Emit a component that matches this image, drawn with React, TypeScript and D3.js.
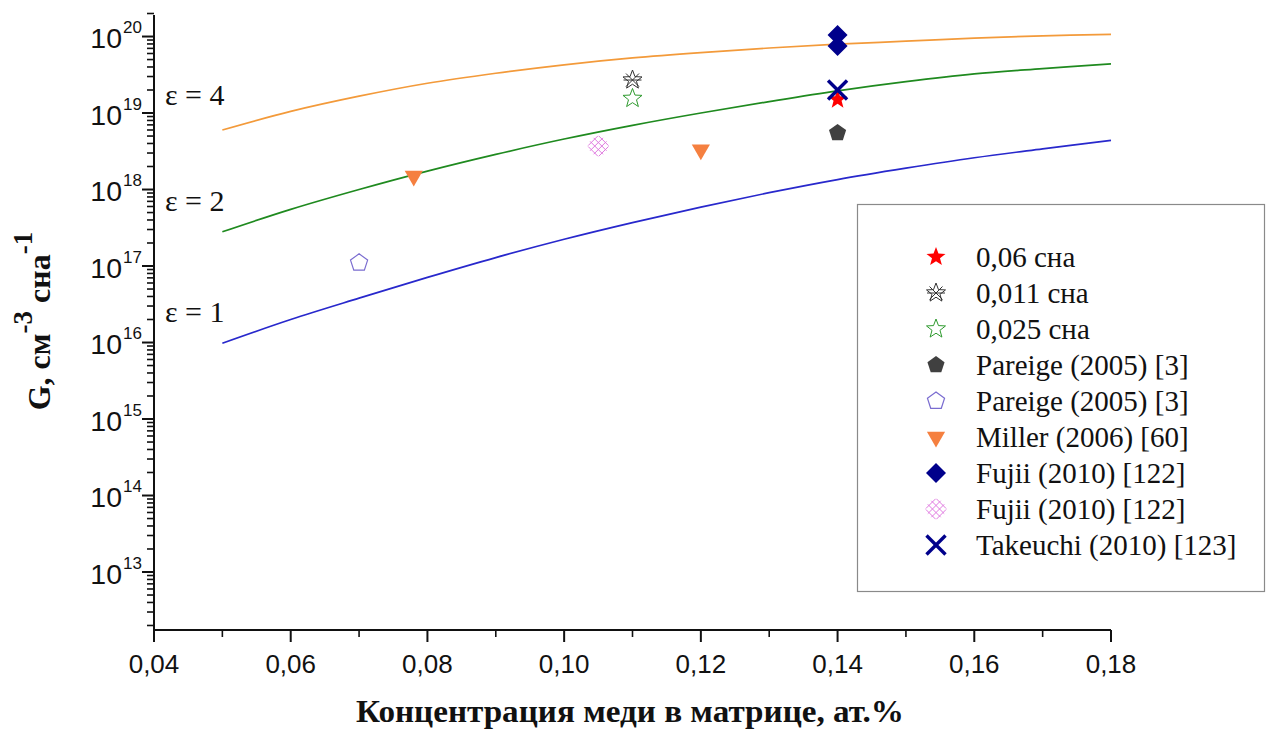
import React from "react";
import * as d3 from "d3";

// ---- data ----
const curveX = [0.05, 0.06, 0.07, 0.08, 0.09, 0.1, 0.11, 0.12, 0.13, 0.14, 0.15, 0.16, 0.17, 0.18];
const eps4 = [6.0e18, 1.05e19, 1.66e19, 2.45e19, 3.31e19, 4.27e19, 5.25e19, 6.17e19, 7.08e19, 7.94e19, 8.7e19, 9.55e19, 1.02e20, 1.07e20];
const eps2 = [2.8e17, 5.5e17, 1.0e18, 1.74e18, 2.88e18, 4.57e18, 6.9e18, 1.0e19, 1.41e19, 1.95e19, 2.57e19, 3.24e19, 3.8e19, 4.4e19];
const eps1 = [9.8e15, 2.0e16, 3.8e16, 7.1e16, 1.29e17, 2.24e17, 3.7e17, 5.9e17, 9.1e17, 1.35e18, 1.9e18, 2.6e18, 3.4e18, 4.4e18];
const curveNames = ["ε = 4", "ε = 2", "ε = 1"];
const curveLabelAt = [1.27e19, 5.25e17, 1.86e16];

const legendNames = [
  "0,06 сна",
  "0,011 сна",
  "0,025 сна",
  "Pareige (2005) [3]",
  "Pareige (2005) [3]",
  "Miller (2006) [60]",
  "Fujii (2010) [122]",
  "Fujii (2010) [122]",
  "Takeuchi (2010) [123]",
];
const sX0 = [0.14];
const sY0 = [1.5e19];
const sX1 = [0.11];
const sY1 = [2.7e19];
const sX2 = [0.11];
const sY2 = [1.55e19];
const sX3 = [0.14];
const sY3 = [5.5e18];
const sX4 = [0.07];
const sY4 = [1.1e17];
const sX5 = [0.078, 0.12];
const sY5 = [1.5e18, 3.3e18];
const sX6 = [0.14, 0.14];
const sY6 = [1.05e20, 7.5e19];
const sX7 = [0.105];
const sY7 = [3.7e18];
const sX8 = [0.14];
const sY8 = [2.0e19];

const xTicks = [0.04, 0.06, 0.08, 0.1, 0.12, 0.14, 0.16, 0.18];
const xMinor = [0.05, 0.07, 0.09, 0.11, 0.13, 0.15, 0.17];
const yExps = [13, 14, 15, 16, 17, 18, 19, 20];

// ---- markers ----
function starPath(ro: number, ri: number) {
  const pts: string[] = [];
  for (let i = 0; i < 10; i++) {
    const r = i % 2 === 0 ? ro : ri;
    const a = -Math.PI / 2 + (i * Math.PI) / 5;
    pts.push(`${(r * Math.cos(a)).toFixed(2)},${(r * Math.sin(a)).toFixed(2)}`);
  }
  return "M" + pts.join("L") + "Z";
}
function polyPath(n: number, r: number, rot: number) {
  const pts: string[] = [];
  for (let i = 0; i < n; i++) {
    const a = rot + (i * 2 * Math.PI) / n;
    pts.push(`${(r * Math.cos(a)).toFixed(2)},${(r * Math.sin(a)).toFixed(2)}`);
  }
  return "M" + pts.join("L") + "Z";
}

function Marker({ kind, x, y }: { kind: number; x: number; y: number }) {
  const t = `translate(${x},${y})`;
  switch (kind) {
    case 0:
      return <path transform={t} d={starPath(10, 4.2)} fill="#ff0000" />;
    case 1:
      return (
        <g transform={t} stroke="#333" strokeWidth={1} fill="none">
          <path d={starPath(10, 4.2)} />
          <line x1={-9} y1={0} x2={9} y2={0} />
          <line x1={-6.5} y1={-6.5} x2={6.5} y2={6.5} />
          <line x1={-6.5} y1={6.5} x2={6.5} y2={-6.5} />
        </g>
      );
    case 2:
      return <path transform={t} d={starPath(10, 4.2)} fill="none" stroke="#2e9a2e" strokeWidth={1} />;
    case 3:
      return <path transform={t} d={polyPath(5, 9, -Math.PI / 2)} fill="#404040" />;
    case 4:
      return <path transform={t} d={polyPath(5, 9, -Math.PI / 2)} fill="none" stroke="#7a6cd0" strokeWidth={1.2} />;
    case 5:
      return <path transform={t} d={polyPath(3, 10.5, Math.PI / 2)} fill="#f58040" />;
    case 6:
      return <path transform={t} d={polyPath(4, 10, -Math.PI / 2)} fill="#00008b" />;
    case 7: {
      const R = 11;
      const offs = [-7.5, -2.5, 2.5, 7.5];
      const lines: JSX.Element[] = [];
      offs.forEach((d, i) => {
        const h = Math.sqrt(R * R - d * d) * 0.85;
        const s = Math.SQRT1_2;
        lines.push(
          <line key={"a" + i} x1={d * s - h * s} y1={-d * s - h * s} x2={d * s + h * s} y2={-d * s + h * s} />
        );
        lines.push(
          <line key={"b" + i} x1={d * s - h * s} y1={d * s + h * s} x2={d * s + h * s} y2={d * s - h * s} />
        );
      });
      return (
        <g transform={t} stroke="#e07ae0" strokeWidth={1}>
          {lines}
        </g>
      );
    }
    case 8:
      return (
        <g transform={t} stroke="#00008b" strokeWidth={3.4}>
          <line x1={-9.5} y1={-9.5} x2={9.5} y2={9.5} />
          <line x1={-9.5} y1={9.5} x2={9.5} y2={-9.5} />
        </g>
      );
  }
  return null;
}

export default function App() {
  const W = 1266;
  const H = 731;
  const x = d3.scaleLinear().domain([0.04, 0.18]).range([154, 1111]);
  const y = d3.scaleLog().domain([Math.pow(10, 12.242), 2e20]).range([630, 13.5]);

  const line = d3
    .line<[number, number]>()
    .x((d) => x(d[0]))
    .y((d) => y(d[1]))
    .curve(d3.curveCatmullRom);

  const curves = [
    { v: eps4, c: "#f39a3a" },
    { v: eps2, c: "#1f8a1f" },
    { v: eps1, c: "#2828cc" },
  ];

  const [ymin, ymax] = y.domain();
  const minorY: number[] = [];
  for (let e = 12; e <= 20; e++) {
    for (let m = 2; m <= 9; m++) {
      const v = m * Math.pow(10, e);
      if (v >= ymin && v <= ymax * 1.0001) minorY.push(v);
    }
  }

  const series = [
    [sX0, sY0],
    [sX1, sY1],
    [sX2, sY2],
    [sX3, sY3],
    [sX4, sY4],
    [sX5, sY5],
    [sX6, sY6],
    [sX7, sY7],
    [sX8, sY8],
  ];

  const x0 = x(0.04);
  const yBot = 630;
  const sans = "'Liberation Sans', Arial, sans-serif";
  const serif = "'Liberation Serif', 'Times New Roman', serif";

  return (
    <svg
      width={W}
      height={H}
      style={{ position: "absolute", left: 0, top: 0, background: "#fff" }}
      xmlns="http://www.w3.org/2000/svg"
    >
      <rect x={0} y={0} width={W} height={H} fill="#fff" />
      {/* curves */}
      {curves.map((c, i) => (
        <path
          key={i}
          d={line(curveX.map((xv, j) => [xv, c.v[j]]) as [number, number][]) || ""}
          fill="none"
          stroke={c.c}
          strokeWidth={1.7}
        />
      ))}
      {/* epsilon labels */}
      {curveNames.map((n, i) => (
        <text key={n} x={165} y={y(curveLabelAt[i])} fontFamily={serif} fontSize={30} fill="#111">
          {n}
        </text>
      ))}
      {/* axes */}
      <g stroke="#111" strokeWidth={2} fill="none">
        <line x1={x0} y1={y.range()[1] + 1.5} x2={x0} y2={yBot} />
        <line x1={x0 - 1} y1={yBot} x2={x(0.18)} y2={yBot} />
        {yExps.map((e) => (
          <line key={e} x1={x0 - 12} x2={x0} y1={y(Math.pow(10, e))} y2={y(Math.pow(10, e))} />
        ))}
        {minorY.map((v, i) => (
          <line key={i} x1={x0 - 7} x2={x0} y1={y(v)} y2={y(v)} strokeWidth={1.6} />
        ))}
        {xTicks.map((t) => (
          <line key={t} x1={x(t)} x2={x(t)} y1={yBot} y2={yBot + 12} />
        ))}
        {xMinor.map((t) => (
          <line key={t} x1={x(t)} x2={x(t)} y1={yBot} y2={yBot + 7} strokeWidth={1.6} />
        ))}
      </g>
      {/* y tick labels */}
      {yExps.map((e) => (
        <g key={e} fontFamily={sans} fill="#111">
          <text x={122} y={y(Math.pow(10, e)) + 11.5} fontSize={28.5} textAnchor="end">
            10
          </text>
          <text x={123} y={y(Math.pow(10, e)) - 3.5} fontSize={17}>
            {e}
          </text>
        </g>
      ))}
      {/* x tick labels */}
      {xTicks.map((t) => (
        <text key={t} x={x(t)} y={673} fontFamily={sans} fontSize={26} textAnchor="middle" fill="#111">
          {d3.format(".2f")(t).replace(".", ",")}
        </text>
      ))}
      {/* axis titles */}
      <text
        x={630}
        y={722}
        fontFamily={serif}
        fontWeight="bold"
        fontSize={32}
        textAnchor="middle"
        textLength={548}
        lengthAdjust="spacingAndGlyphs"
        fill="#111"
      >
        Концентрация меди в матрице, ат.%
      </text>
      <text
        transform="translate(50,321) rotate(-90)"
        fontFamily={serif}
        fontWeight="bold"
        fontSize={32}
        textAnchor="middle"
        fill="#111"
      >
        G, см
        <tspan fontSize={27} dy={-18}>
          -3
        </tspan>
        <tspan dy={18}> сна</tspan>
        <tspan fontSize={27} dy={-18}>
          -1
        </tspan>
      </text>
      {/* data points */}
      {series.map(([xs, ys], k) =>
        xs.map((xv, j) => <Marker key={k + "-" + j} kind={k} x={x(xv)} y={y(ys[j])} />)
      )}
      {/* legend */}
      <rect x={857.5} y={204.5} width={407} height={387} fill="#fff" stroke="#8a8a8a" strokeWidth={1.2} />
      {legendNames.map((n, i) => (
        <g key={i}>
          <Marker kind={i} x={936} y={257 + i * 36} />
          <text x={976} y={257 + i * 36 + 10} fontFamily={serif} fontSize={29} fill="#111">
            {n}
          </text>
        </g>
      ))}
    </svg>
  );
}
